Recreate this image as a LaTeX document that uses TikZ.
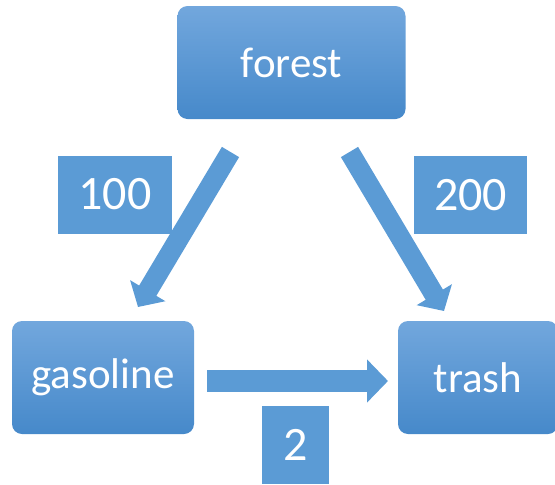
\documentclass[tikz,border=0pt]{standalone}
\usepackage{fontspec}
\setmainfont{Carlito}
\usetikzlibrary{arrows.meta}
\usetikzlibrary{positioning}
\definecolor{boxtop}{HTML}{72A7DD}
\definecolor{boxbot}{HTML}{4689CA}
\definecolor{labblue}{HTML}{5B9BD5}

\begin{document}
\begin{tikzpicture}[
					x=1pt, y=-1pt,
					block/.style={rounded corners=10pt, top color=boxtop, bottom color=boxbot, draw=none, text=white, font=\fontsize{43}{43}\selectfont, minimum height=113pt, inner sep=0pt},
					weight/.style={fill=labblue, text=white, font=\fontsize{48}{48}\selectfont, minimum height=78pt, inner sep=0pt},
					flow/.style={draw=labblue, line width=20pt, -{Triangle[width=40pt, length=19pt]}}
				]
					\useasboundingbox (0,0) rectangle (555,485);
					\node[block, minimum width=228pt] (forest) at (291.5,62.5) {forest};
					\node[block, minimum width=182pt] (gasoline) at (103,377.5) {gasoline};
					\node[block, minimum width=160pt] (trash) at (478,377.5) {trash};
					\node[weight, minimum width=114pt] (w100) at (115,194.5) {100};
					\node[weight, minimum width=113pt] (w200) at (470.5,195) {200};
					\node[weight, minimum width=67pt] (w2) at (295.5,445) {2};
					\coordinate (fg) at (230.5,152);
					\coordinate (gf) at (138,307);
					\coordinate (ft) at (349.5,152);
					\coordinate (tf) at (444,311);
					\coordinate (gt) at (207,381);
					\coordinate (tg) at (388,381);
					\draw[flow] (fg) -- (gf);
					\draw[flow] (ft) -- (tf);
					\draw[flow, line width=22pt, -{Triangle[width=42pt, length=21pt]}] (gt) -- (tg);
				\end{tikzpicture}
\end{document}
